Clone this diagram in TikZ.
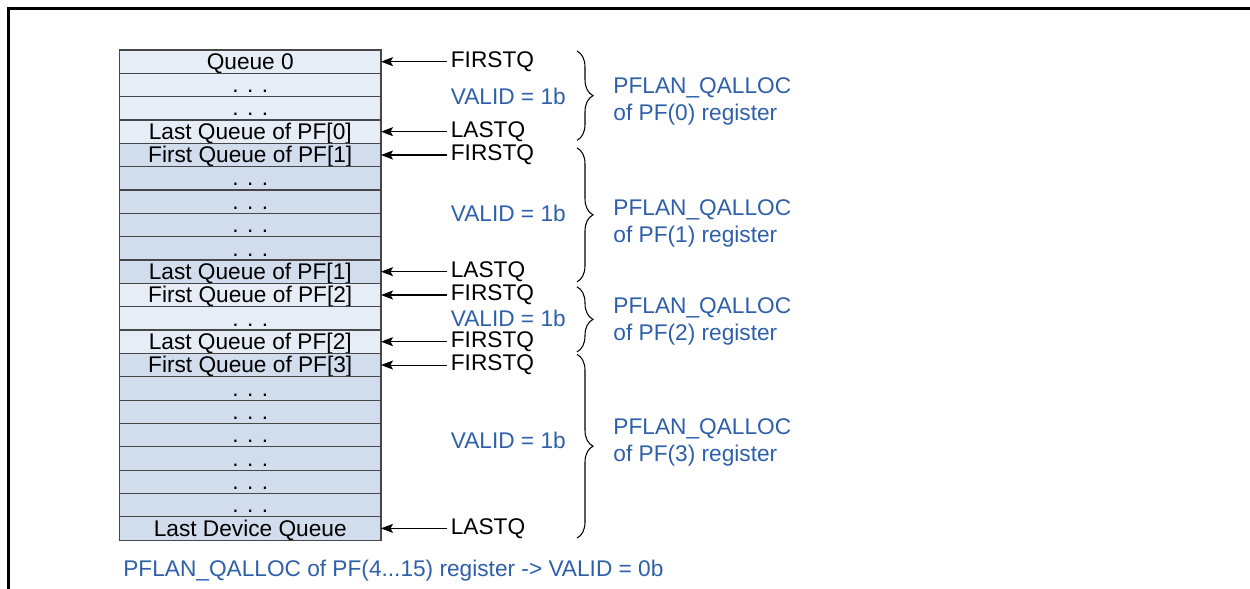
\documentclass[tikz,border=0pt]{standalone}
\usepackage{fontspec}
\setmainfont{Liberation Sans}
\usepackage{xcolor}
\usepackage{tikz}
\usetikzlibrary{arrows.meta, positioning, calc, decorations.pathreplacing}

\definecolor{qlight}{RGB}{231,237,247}
\definecolor{qdark}{RGB}{209,220,236}
\definecolor{qedge}{RGB}{70,70,70}
\definecolor{regblue}{RGB}{46,95,170}
\newcommand{\qfont}{\fontsize{12.9pt}{15.4pt}\selectfont}

\begin{document}
\begin{tikzpicture}[
    node distance=0pt and 1.32cm,
    queue/.style={rectangle, draw=qedge, line width=0.6pt, minimum width=5.23cm, minimum height=0.4667cm, inner sep=0pt, outer sep=0pt, text height=0.386cm, text depth=0.08cm, font=\qfont},
    lightq/.style={queue, fill=qlight},
    darkq/.style={queue, fill=qdark},
    ptr/.style={inner sep=2pt, font=\qfont},
    valid/.style={inner sep=2pt, anchor=west, text=regblue, font=\qfont},
    reg/.style={inner sep=2pt, align=left, text=regblue, font=\qfont},
    arrow/.style={-{Stealth[length=0.24cm, width=0.18cm, inset=0.05cm]}, line width=0.6pt},
    grp/.style={decorate, decoration={brace, amplitude=0.32cm}, line width=0.6pt}
]
    \useasboundingbox (0,0) rectangle (25,-11.78);

    % Frame
    \draw[line width=0.06cm] (25,-0.17) -- (0.16,-0.17) -- (0.16,-11.78);

    % Queue table
    \node[lightq, anchor=north west] (q1) at (2.39,-1.0) {Queue 0};
    \node[lightq, below=of q1] (q2) {. . .};
    \node[lightq, below=of q2] (q3) {. . .};
    \node[lightq, below=of q3] (q4) {Last Queue of PF[0]};
    \node[darkq, below=of q4] (q5) {First Queue of PF[1]};
    \node[darkq, below=of q5] (q6) {. . .};
    \node[darkq, below=of q6] (q7) {. . .};
    \node[darkq, below=of q7] (q8) {. . .};
    \node[darkq, below=of q8] (q9) {. . .};
    \node[darkq, below=of q9] (q10) {Last Queue of PF[1]};
    \node[lightq, below=of q10] (q11) {First Queue of PF[2]};
    \node[lightq, below=of q11] (q12) {. . .};
    \node[lightq, below=of q12] (q13) {Last Queue of PF[2]};
    \node[darkq, below=of q13] (q14) {First Queue of PF[3]};
    \node[darkq, below=of q14] (q15) {. . .};
    \node[darkq, below=of q15] (q16) {. . .};
    \node[darkq, below=of q16] (q17) {. . .};
    \node[darkq, below=of q17] (q18) {. . .};
    \node[darkq, below=of q18] (q19) {. . .};
    \node[darkq, below=of q19] (q20) {. . .};
    \node[darkq, below=of q20] (q21) {Last Device Queue};

    % Queue pointers
    \node[ptr, right=of q1] (f0) {FIRSTQ};
    \node[ptr, right=of q4] (l0) {LASTQ};
    \node[ptr, right=of q5] (f1) {FIRSTQ};
    \node[ptr, right=of q10] (l1) {LASTQ};
    \node[ptr, right=of q11] (f2) {FIRSTQ};
    \node[ptr, right=of q13] (l2) {FIRSTQ};
    \node[ptr, right=of q14] (f3) {FIRSTQ};
    \node[ptr, right=of q21] (l3) {LASTQ};

    \draw[arrow] (f0) -- (q1);
    \draw[arrow] (l0) -- (q4);
    \draw[arrow] (f1) -- (q5);
    \draw[arrow] (l1) -- (q10);
    \draw[arrow] (f2) -- (q11);
    \draw[arrow] (l2) -- (q13);
    \draw[arrow] (f3) -- (q14);
    \draw[arrow] (l3) -- (q21);

    % Valid flags and registers
    \node[valid] (v0) at ($(f0.west)!0.5!(l0.west)$) {VALID = 1b};
    \node[valid] (v1) at ($(f1.west)!0.5!(l1.west)$) {VALID = 1b};
    \node[valid] (v2) at ($(f2.west)!0.5!(l2.west)$) {VALID = 1b};
    \node[valid, yshift=0.12cm] (v3) at ($(f3.west)!0.5!(l3.west)$) {VALID = 1b};

    \node[reg, right=0.8cm of v0, yshift=-0.1cm] (r0) {PFLAN\_QALLOC\\of PF(0) register};
    \node[reg, right=0.8cm of v1, yshift=-0.2cm] (r1) {PFLAN\_QALLOC\\of PF(1) register};
    \node[reg, right=0.8cm of v2, yshift=-0.06cm] (r2) {PFLAN\_QALLOC\\of PF(2) register};
    \node[reg, right=0.8cm of v3, yshift=-0.04cm] (r3) {PFLAN\_QALLOC\\of PF(3) register};

    \coordinate (bx) at ([xshift=2.6cm]f0.west);
    \draw[grp] ($(bx |- q1.north)+(0,-0.02)$) -- ($(bx |- q4.south)+(0,0.06)$);
    \draw[grp] ($(bx |- q5.north)+(0,-0.09)$) -- ($(bx |- q10.south)+(0,0.03)$);
    \draw[grp] ($(bx |- q11.north)+(0,-0.07)$) -- ($(bx |- q13.south)+(0,0.03)$);
    \draw[grp] ($(bx |- q14.north)+(0,-0.02)$) -- ($(bx |- q21.south)+(0,0.04)$);

    \node[reg, anchor=west] (note) at ([yshift=-0.62cm]q21.south west) {PFLAN\_QALLOC of PF(4...15) register -> VALID = 0b};
\end{tikzpicture}
\end{document}
